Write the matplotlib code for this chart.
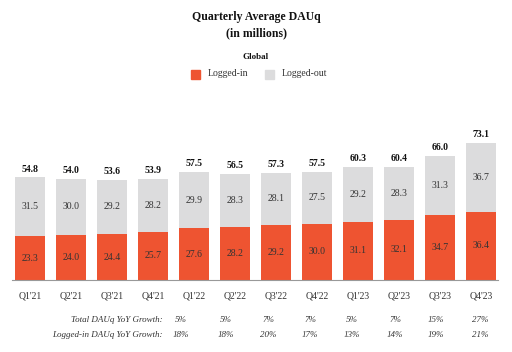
import matplotlib.pyplot as plt

quarters = ["Q1'21", "Q2'21", "Q3'21", "Q4'21", "Q1'22", "Q2'22", "Q3'22", "Q4'22",
            "Q1'23", "Q2'23", "Q3'23", "Q4'23"]
logged_in = [23.3, 24.0, 24.4, 25.7, 27.6, 28.2, 29.2, 30.0, 31.1, 32.1, 34.7, 36.4]
logged_out = [31.5, 30.0, 29.2, 28.2, 29.9, 28.3, 28.1, 27.5, 29.2, 28.3, 31.3, 36.7]
totals = [54.8, 54.0, 53.6, 53.9, 57.5, 56.5, 57.3, 57.5, 60.3, 60.4, 66.0, 73.1]
total_growth = ["5%", "5%", "7%", "7%", "5%", "7%", "15%", "27%"]
loggedin_growth = ["18%", "18%", "20%", "17%", "13%", "14%", "19%", "21%"]

W, H = 512, 352
fig = plt.figure(figsize=(W / 100, H / 100), dpi=100)
plt.rcParams['font.family'] = ['Liberation Serif', 'DejaVu Serif']

red = '#EE5431'
gray = '#DCDCDD'
txt = '#333333'

L, R, B, T = 12, 498, 72, 222
ax = fig.add_axes([L / W, B / H, (R - L) / W, (T - B) / H])
x = list(range(len(quarters)))
ax.bar(x, logged_in, width=0.71, color=red, edgecolor='none')
ax.bar(x, logged_out, bottom=logged_in, width=0.71, color=gray, edgecolor='none')
for i in x:
    ax.text(i, logged_in[i] / 2, f"{logged_in[i]:.1f}", ha='center', va='center', fontsize=7, color=txt)
    ax.text(i, logged_in[i] + logged_out[i] / 2, f"{logged_out[i]:.1f}", ha='center', va='center', fontsize=7, color=txt)
    ax.text(i, totals[i] + 2.0, f"{totals[i]:.1f}", ha='center', va='bottom', fontsize=7, fontweight='bold', color='#111111')

ax.set_xlim((L - 30) / 41, (R - 30) / 41)
ax.set_ylim(0, (T - B) / 1.875)
ax.set_xticks(x)
ax.set_xticklabels(quarters, fontsize=7, color=txt)
ax.tick_params(axis='x', length=0, pad=8)
ax.set_yticks([])
for s in ['top', 'left', 'right']:
    ax.spines[s].set_visible(False)
ax.spines['bottom'].set_color('#999999')
ax.spines['bottom'].set_linewidth(0.8)

def fx(px):
    return px / W

def fy(py):
    return 1 - py / H

fig.text(fx(256), fy(17), "Quarterly Average DAUq", ha='center', va='center', fontsize=8.5, fontweight='bold', color='#111111')
fig.text(fx(256), fy(33), "(in millions)", ha='center', va='center', fontsize=8.5, fontweight='bold', color='#111111')
fig.text(fx(256), fy(57), "Global", ha='center', va='center', fontsize=6.5, fontweight='bold', color='#111111')

from matplotlib.patches import Rectangle
fig.patches.append(Rectangle((fx(191), fy(79)), 9 / W, 9 / H, transform=fig.transFigure, color=red))
fig.text(fx(208), fy(74), "Logged-in", ha='left', va='center', fontsize=7, color=txt)
fig.patches.append(Rectangle((fx(265), fy(79)), 9 / W, 9 / H, transform=fig.transFigure, color=gray))
fig.text(fx(282), fy(74), "Logged-out", ha='left', va='center', fontsize=7, color=txt)

gx = [181, 226, 268, 310, 352, 395, 436, 480]
fig.text(fx(163), fy(320), "Total DAUq YoY Growth:", ha='right', va='center', fontsize=6.5, style='italic', color='#333333')
fig.text(fx(163), fy(335), "Logged-in DAUq YoY Growth:", ha='right', va='center', fontsize=6.5, style='italic', color='#333333')
for i in range(len(gx)):
    fig.text(fx(gx[i]), fy(320), total_growth[i], ha='center', va='center', fontsize=6.5, style='italic', color='#333333')
    fig.text(fx(gx[i]), fy(335), loggedin_growth[i], ha='center', va='center', fontsize=6.5, style='italic', color='#333333')

fig.savefig('out.png', dpi=100)
